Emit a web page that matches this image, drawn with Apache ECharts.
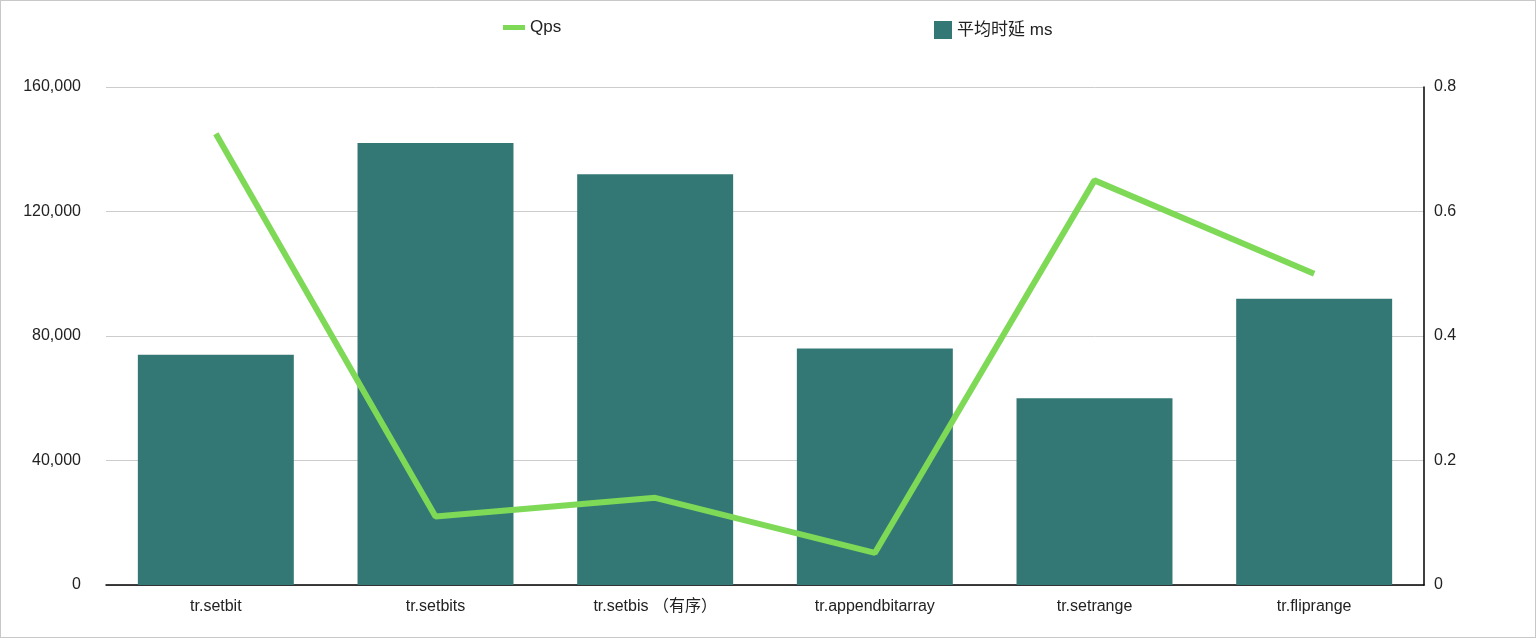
<!DOCTYPE html>
<html><head><meta charset="utf-8">
<script src="https://cdn.jsdelivr.net/npm/echarts@6/dist/echarts.min.js"></script>
<style>html,body{margin:0;padding:0;background:#fff}#c{width:1534px;height:636px;border:1px solid #c8c8c8}</style>
</head><body><div id="c"></div>
<script>
const categories = ['tr.setbit','tr.setbits','tr.setbis （有序）','tr.appendbitarray','tr.setrange','tr.fliprange'];
const qps = [145000, 22000, 28000, 10300, 130000, 100000];
const latency = [0.37, 0.71, 0.66, 0.38, 0.30, 0.46];
const leftTicks = {min:0, max:160000, interval:40000};
const rightTicks = {min:0, max:0.8, interval:0.2};
const font = 'Helvetica, "Liberation Sans", Arial, "Noto Sans CJK SC"';
const chart = echarts.init(document.getElementById('c'));
chart.setOption({
  animation:false,
  textStyle:{fontFamily:font},
  legend:[
    {data:[{name:'Qps',icon:'rect'}],left:497,top:13,itemWidth:22,itemHeight:5,textStyle:{fontSize:17,color:'#222',fontFamily:font}},
    {data:[{name:'平均时延 ms',icon:'rect'}],left:928,top:15,itemWidth:18,itemHeight:18,textStyle:{fontSize:17,color:'#222',fontFamily:font}}
  ],
  grid:{left:105,right:111,top:86,bottom:52},
  xAxis:{type:'category',data:categories,axisTick:{show:false},
    axisLine:{lineStyle:{color:'#000',width:1.5}},
    axisLabel:{fontSize:16,color:'#222',margin:14}},
  yAxis:[
    {type:'value',...leftTicks,position:'left',axisLine:{show:false},axisTick:{show:false},
     splitLine:{lineStyle:{color:'#ccc'}},axisLabel:{fontSize:16,color:'#222',margin:25}},
    {type:'value',...rightTicks,position:'right',axisLine:{show:true,lineStyle:{color:'#000',width:1.5}},axisTick:{show:false},
     splitLine:{show:false},axisLabel:{fontSize:16,color:'#222',margin:10,formatter:v=>v===0?'0':v.toFixed(1)}}
  ],
  series:[
    {name:'平均时延 ms',type:'bar',yAxisIndex:1,data:latency,barWidth:'71%',itemStyle:{color:'#347875'}},
    {name:'Qps',type:'line',yAxisIndex:0,data:qps,symbol:'none',lineStyle:{color:'#7ed957',width:6},itemStyle:{color:'#7ed957'}}
  ]
});
</script></body></html>
